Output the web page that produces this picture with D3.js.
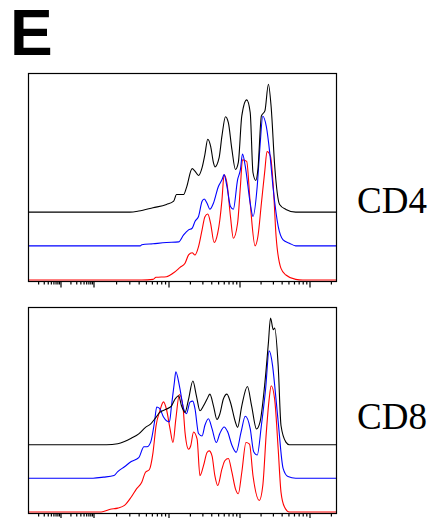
<!DOCTYPE html>
<html><head><meta charset="utf-8">
<script src="https://cdn.jsdelivr.net/npm/d3@7"></script>
<style>body{margin:0;background:#fff}svg{display:block}</style>
</head><body>
<script>
// x values are log10 fluorescence exponents, y values are relative counts
const panelLabels = ["CD4", "CD8"];
const seriesColors = ["#ff0000", "#0000ff", "#000000"]; // red, blue, black
const seriesOffsets = [0, 16.5, 32.8];

const cd4Red = [[0,0],[2.65,0],[2.80,0.3],[2.84,1.3],[2.98,1.6],[3.08,3.5],[3.17,6.1],[3.24,8.1],[3.29,12.1],[3.34,13.2],[3.38,12.1],[3.43,16.1],[3.48,24.2],[3.52,30.6],[3.56,31.9],[3.60,27.4],[3.65,18.1],[3.70,22.6],[3.73,29.0],[3.76,38.7],[3.79,50.8],[3.83,46.8],[3.88,30.6],[3.92,20.2],[3.98,27.4],[4.02,45.2],[4.05,58.1],[4.11,57.3],[4.16,37.1],[4.23,16.5],[4.27,21.0],[4.32,37.1],[4.37,53.2],[4.40,62.1],[4.45,59.7],[4.49,45.2],[4.53,21.0],[4.60,5.6],[4.67,2.4],[4.81,0.3],[4.91,0],[5.38,0]];
const cd4Blue = [[0,0],[2.63,0],[2.65,0.5],[2.80,1.0],[2.98,1.6],[3.15,1.9],[3.22,5.3],[3.29,7.7],[3.34,8.5],[3.38,11.8],[3.43,14.2],[3.48,21.5],[3.51,22.6],[3.55,20.6],[3.59,17.7],[3.64,20.6],[3.71,28.7],[3.76,31.9],[3.79,34.4],[3.83,28.7],[3.88,19.0],[3.92,17.7],[3.98,31.9],[4.02,36.8],[4.05,44.4],[4.09,38.4],[4.16,20.6],[4.20,14.2],[4.26,28.7],[4.30,48.1],[4.34,62.6],[4.39,57.7],[4.44,44.8],[4.49,27.1],[4.56,9.4],[4.63,2.9],[4.72,1.3],[4.81,0],[5.38,0]];
const cd4Black = [[0,0],[2.49,0],[2.61,0.5],[2.80,2.1],[2.98,3.7],[3.08,5.3],[3.12,8.5],[3.22,8.5],[3.26,11.8],[3.34,21.0],[3.38,19.8],[3.43,17.7],[3.48,21.5],[3.52,27.9],[3.56,35.2],[3.60,31.9],[3.64,23.9],[3.66,21.8],[3.72,26.3],[3.76,36.8],[3.81,46.1],[3.85,43.2],[3.90,30.3],[3.95,20.6],[3.99,23.9],[4.04,46.5],[4.11,54.2],[4.16,48.1],[4.20,19.0],[4.24,15.3],[4.27,20.6],[4.32,46.5],[4.37,48.9],[4.42,61.8],[4.46,50.5],[4.51,22.3],[4.58,3.7],[4.67,1.3],[4.81,0],[5.38,0]];

const cd8Red = [[0,0],[2.11,0],[2.23,1.3],[2.33,1.9],[2.42,3.2],[2.51,7.3],[2.58,11.3],[2.65,14.5],[2.70,19.4],[2.75,20.6],[2.80,29.0],[2.84,41.9],[2.89,49.2],[2.94,53.7],[2.98,50.0],[3.03,40.3],[3.07,33.9],[3.11,45.2],[3.16,57.3],[3.21,51.6],[3.24,38.7],[3.29,30.6],[3.32,32.3],[3.36,39.0],[3.41,35.5],[3.45,17.7],[3.50,22.6],[3.55,29.0],[3.58,29.8],[3.62,27.4],[3.66,17.7],[3.70,12.9],[3.76,21.0],[3.80,25.0],[3.85,26.1],[3.90,19.4],[3.95,11.3],[3.99,8.9],[4.04,19.4],[4.10,33.9],[4.15,33.1],[4.20,17.7],[4.29,5.6],[4.34,12.9],[4.39,38.7],[4.43,54.8],[4.46,61.6],[4.51,54.8],[4.56,30.6],[4.60,9.7],[4.65,2.4],[4.72,0],[5.38,0]];
const cd8Blue = [[0,0],[2.00,0],[2.14,0.5],[2.28,1.3],[2.33,3.2],[2.42,5.6],[2.51,8.1],[2.61,10.0],[2.68,15.3],[2.72,15.3],[2.77,17.7],[2.82,27.4],[2.85,34.7],[2.89,33.9],[2.94,29.8],[3.02,27.4],[3.05,35.5],[3.09,46.8],[3.11,51.9],[3.16,45.2],[3.22,33.9],[3.26,31.5],[3.31,37.1],[3.35,37.6],[3.38,33.9],[3.43,21.8],[3.48,20.6],[3.52,25.8],[3.57,29.0],[3.62,24.2],[3.68,17.4],[3.73,21.8],[3.79,25.0],[3.84,22.6],[3.90,16.1],[3.96,12.6],[4.03,22.6],[4.09,30.2],[4.16,24.2],[4.21,12.9],[4.26,11.3],[4.32,25.8],[4.38,43.5],[4.43,62.1],[4.48,54.8],[4.51,45.2],[4.56,27.4],[4.63,4.8],[4.70,0.8],[4.81,0],[5.38,0]];
const cd8Black = [[0,0],[2.18,0],[2.33,0.5],[2.42,1.6],[2.51,3.2],[2.61,5.3],[2.70,8.5],[2.77,10.2],[2.84,13.4],[2.89,15.8],[2.98,17.4],[3.05,19.0],[3.10,22.3],[3.15,23.9],[3.19,19.0],[3.24,15.8],[3.29,22.3],[3.35,31.1],[3.40,23.9],[3.45,16.6],[3.50,19.0],[3.55,22.3],[3.59,24.7],[3.64,19.0],[3.69,12.3],[3.73,15.0],[3.78,22.3],[3.83,24.7],[3.88,20.6],[3.95,11.0],[3.98,8.5],[4.04,19.0],[4.12,28.4],[4.18,19.0],[4.25,7.7],[4.30,11.0],[4.37,30.3],[4.42,49.7],[4.45,61.8],[4.49,56.1],[4.51,56.9],[4.56,38.4],[4.60,9.4],[4.67,1.3],[4.72,0],[5.38,0]];

const majorTicks = [10, 100, 1000, 10000, 100000];
const decades = [1, 10, 100, 1000, 10000, 100000];
const minorMultipliers = [2, 3, 4, 5, 6, 7, 8, 9];

const panels = [
  {label: panelLabels[0], series: [cd4Red, cd4Blue, cd4Black], top: 73, bottom: 281, labelY: 213},
  {label: panelLabels[1], series: [cd8Red, cd8Blue, cd8Black], top: 307, bottom: 513, labelY: 429}
];

const W = 429, H = 518;
const left = 28, right = 336;
const svg = d3.select("body").append("svg").attr("width", W).attr("height", H);

svg.append("text").attr("x", 10).attr("y", 55)
  .attr("font-family", "Liberation Sans, Arial, sans-serif").attr("font-weight", "bold")
  .attr("font-size", 64).attr("fill", "#000").text("E");

const xMax = Math.pow(10, 5.38);
const x = d3.scaleLog()
  .domain([1, 10, 100, 1000, 10000, 100000, xMax])
  .range([left, 60, 93, 168, 239, 309, right]);

const minorTicks = [];
decades.forEach(d => minorMultipliers.forEach(m => { const v = d * m; if (v < xMax) minorTicks.push(v); }));

panels.forEach(p => {
  const y = d3.scaleLinear().domain([0, 100]).range([p.bottom - 1, p.top]);
  const g = svg.append("g");
  const line = d3.line()
    .x(d => x(Math.pow(10, d[0])))
    .curve(d3.curveMonotoneX);
  p.series.forEach((s, i) => {
    line.y(d => y(d[1] + seriesOffsets[i]));
    g.append("path").datum(s).attr("d", line)
      .attr("fill", "none").attr("stroke", seriesColors[i]).attr("stroke-width", 1.1);
  });
  g.append("rect").attr("x", left + 0.5).attr("y", p.top + 0.5)
    .attr("width", right - left).attr("height", p.bottom - p.top)
    .attr("fill", "none").attr("stroke", "#000").attr("stroke-width", 1.2);
  const axMinor = d3.axisBottom(x).tickValues(minorTicks).tickSize(3).tickFormat("");
  const axMajor = d3.axisBottom(x).tickValues(majorTicks).tickSize(6).tickFormat("");
  [axMinor, axMajor].forEach(ax => {
    const a = g.append("g").attr("transform", `translate(0.5,${p.bottom + 0.5})`).call(ax);
    a.select(".domain").remove();
    a.selectAll("line").attr("stroke", "#000").attr("stroke-width", 1.2);
  });
  svg.append("text").attr("x", 357).attr("y", p.labelY)
    .attr("font-family", "Liberation Serif, Times New Roman, serif")
    .attr("font-size", 37).attr("fill", "#000").text(p.label);
});
</script>
</body></html>
